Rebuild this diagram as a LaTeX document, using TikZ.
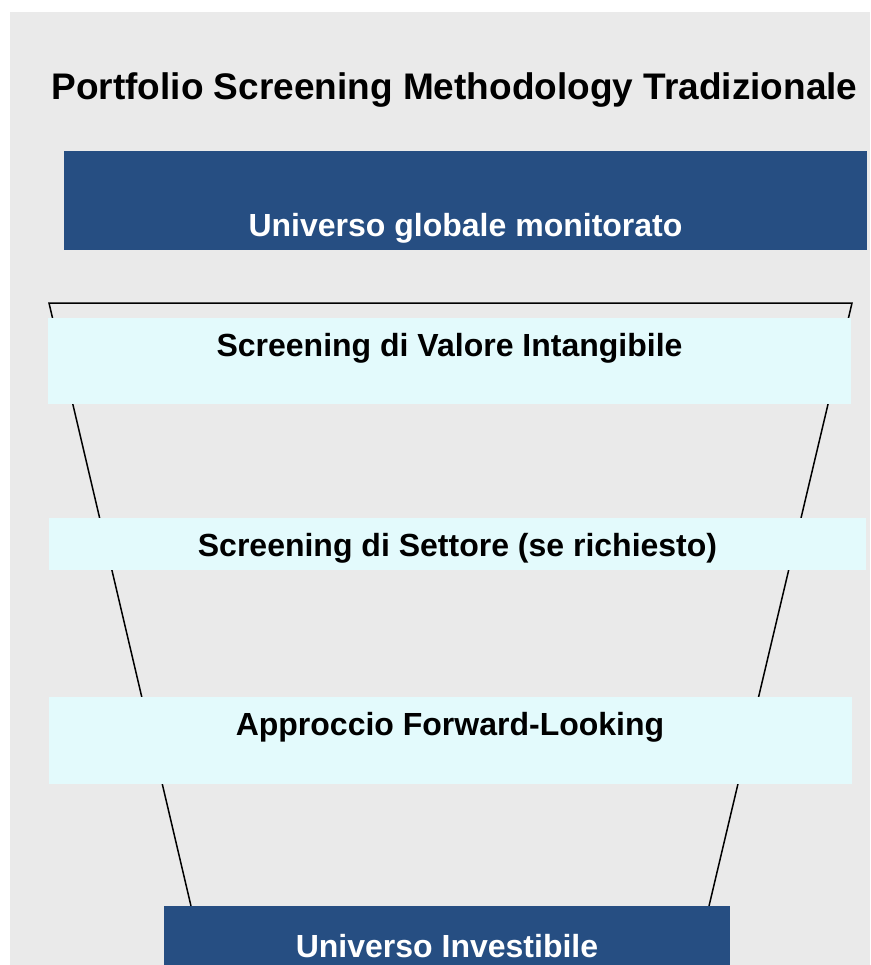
\documentclass[tikz,border=0pt]{standalone}
\usepackage{fontspec}
\setmainfont{Liberation Sans}
\usepackage{xcolor}
\usetikzlibrary{positioning}
\definecolor{panelgrey}{HTML}{EAEAEA}
\definecolor{stagenavy}{HTML}{264E82}
\definecolor{stageice}{HTML}{E3FAFC}
\pgfdeclarelayer{nodelayer}
\pgfdeclarelayer{edgelayer}
\pgfsetlayers{edgelayer,nodelayer,main}
\tikzstyle{none}=[inner sep=0pt]
\tikzset{band/.style={inner sep=0pt, draw=none, fill=stageice, anchor=north west}}
\tikzset{slab/.style={band, fill=stagenavy}}
\tikzset{caption/.style={inner sep=0pt, anchor=base, font=\bfseries\fontsize{32}{32}\selectfont}}
\tikzset{funnel/.style={draw=black, line width=1.5pt}}

\begin{document}
\begin{tikzpicture}[x=1pt, y=-1pt]
    \useasboundingbox (0,0) rectangle (870,965);
    \begin{pgfonlayer}{edgelayer}
        \fill [panelgrey] (10,12) rectangle (870,965);
        \coordinate (6) at (49,303);
        \coordinate (7) at (852,303);
        \coordinate (8) at (709,906);
        \coordinate (9) at (191,906);
        \draw [style=funnel] (9) to (6) to (7) to (8);
    \end{pgfonlayer}
    \begin{pgfonlayer}{nodelayer}
        \node [style=slab, minimum width=803pt, minimum height=99pt] (1) at (64,151) {};
        \node [style=band, minimum width=803pt, minimum height=86pt] (2) at (48,318) {};
        \node [style=band, minimum width=817pt, minimum height=52pt] (3) at (49,518) {};
        \node [style=band, minimum width=803pt, minimum height=87pt] (4) at (49,697) {};
        \node [style=slab, minimum width=566pt, minimum height=59pt] (5) at (164,906) {};
    \end{pgfonlayer}
    \node [style=caption, font=\bfseries\fontsize{37}{37}\selectfont] (0) at (454.5,100) {Portfolio Screening Methodology Tradizionale};
    \node [style=caption, text=white] (10) at (465.5,237) {Universo globale monitorato};
    \node [style=caption] (11) at (449.5,356) {Screening di Valore Intangibile};
    \node [style=caption] (12) at (457.5,556) {Screening di Settore (se richiesto)};
    \node [style=caption] (13) at (450,735) {Approccio Forward-Looking};
    \node [style=caption, text=white] (14) at (447,957) {Universo Investibile};
\end{tikzpicture}
\end{document}
